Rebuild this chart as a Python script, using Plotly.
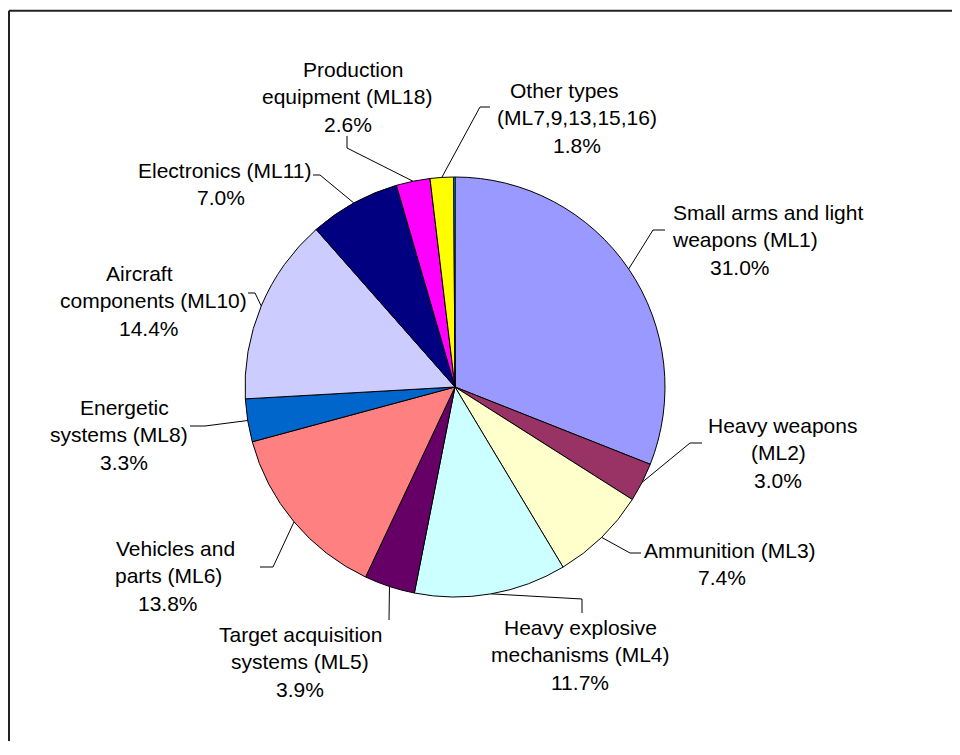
import plotly.graph_objects as go
import numpy as np

# ---------------- data ----------------
categories = [
    "Small arms and light weapons (ML1)", "Heavy weapons (ML2)", "Ammunition (ML3)",
    "Heavy explosive mechanisms (ML4)", "Target acquisition systems (ML5)",
    "Vehicles and parts (ML6)", "Energetic systems (ML8)", "Aircraft components (ML10)",
    "Electronics (ML11)", "Production equipment (ML18)", "Other types (ML7,9,13,15,16)",
    "Unlabelled remainder",
]
shares = [31.0, 3.0, 7.4, 11.7, 3.9, 13.8, 3.3, 14.4, 7.0, 2.6, 1.8, 0.1]
label_lines = [
    ["Small arms and light", "weapons (ML1)"],
    ["Heavy weapons", "(ML2)"],
    ["Ammunition (ML3)"],
    ["Heavy explosive", "mechanisms (ML4)"],
    ["Target acquisition", "systems (ML5)"],
    ["Vehicles and", "parts (ML6)"],
    ["Energetic", "systems (ML8)"],
    ["Aircraft", "components (ML10)"],
    ["Electronics (ML11)"],
    ["Production", "equipment (ML18)"],
    ["Other types", "(ML7,9,13,15,16)"],
    None,
]
colors = ["#9999FF", "#993366", "#FFFFCC", "#CCFFFF", "#660066", "#FF8080",
          "#0066CC", "#CCCCFF", "#000080", "#FF00FF", "#FFFF00", "#00FFFF"]

# ---------------- layout (screen pixels) ----------------
OFF = 8                      # page body margin
W, H = 960 - 2 * OFF, 755 - 2 * OFF - 6
CX, CY, R = 455, 387, 210
FONT = dict(family="Liberation Sans, Arial, sans-serif", size=21, color="#000000")
LINE_STEP = 27.5
label_layout = [
    dict(xs=[768, 745, 740], y=212, knee=(653, 230), attach=(665, 230)),
    dict(xs=[782, 778, 778], y=425, knee=(690, 443), attach=(702, 443)),
    dict(xs=[730, 722], y=550, knee=(630, 553), attach=(641, 553)),
    dict(xs=[580], y=627, knee=(582, 599), attach=(582, 613)),
    dict(xs=[300], y=634, knee=(389, 620), attach=(389, 620)),
    dict(xs=[175, 168, 168], y=548, knee=(273, 567), attach=(260, 567)),
    dict(xs=[124, 119, 124], y=407, knee=(205, 426), attach=(190, 426)),
    dict(xs=[139.5, 153.5, 149], y=273, knee=(255, 293), attach=(248, 293)),
    dict(xs=[225, 221], y=170, knee=(320, 175), attach=(313, 175)),
    dict(xs=[353, 347, 348], y=69, knee=(347, 148), attach=(347, 136)),
    dict(xs=[564, 577, 577], y=90, knee=(480, 107), attach=(490, 107)),
    None,
]

fig = go.Figure()

fig.add_trace(go.Pie(
    labels=categories, values=shares, sort=False, direction="clockwise", rotation=0,
    marker=dict(colors=colors, line=dict(color="#000000", width=1)),
    textinfo="none", hoverinfo="label+percent", showlegend=False,
    domain=dict(x=[(CX - R - OFF) / W, (CX + R - OFF) / W],
                y=[(H + OFF - CY - R) / H, (H + OFF - CY + R) / H]),
))

# mid angles of slices (clockwise from 12 o'clock)
vals = np.array(shares)
total = vals.sum()
cum = np.cumsum(vals) - vals / 2
mid_ang = cum / total * 2 * np.pi

annotations = []
for i, lines in enumerate(label_lines):
    if lines is None:
        continue
    lay = label_layout[i]
    px = CX + R * np.sin(mid_ang[i])
    py = CY - R * np.cos(mid_ang[i])
    kx, ky = lay["knee"]
    ax, ay = lay["attach"]
    fig.add_trace(go.Scatter(
        x=[px, kx, ax], y=[py, ky, ay], mode="lines",
        line=dict(color="#000000", width=1), hoverinfo="skip", showlegend=False,
    ))
    all_lines = lines + [f"{shares[i]:.1f}%"]
    xs = lay["xs"]
    for j, t in enumerate(all_lines):
        xj = xs[j] if j < len(xs) else xs[0]
        annotations.append(dict(
            x=xj, y=lay["y"] + j * LINE_STEP, xref="x", yref="y", text=t,
            showarrow=False, xanchor="center", yanchor="middle", font=FONT,
        ))

frame_line = dict(color="#222222", width=2)
fx = (9 - OFF) / W
fy = 1 - (10.8 - OFF) / H
fig.update_layout(
    width=W, height=H, margin=dict(l=0, r=0, t=0, b=0),
    paper_bgcolor="#FFFFFF", plot_bgcolor="rgba(0,0,0,0)",
    xaxis=dict(range=[OFF, OFF + W], visible=False, showline=False, zeroline=False,
               showgrid=False, fixedrange=True, domain=[0, 1]),
    yaxis=dict(range=[OFF + H, OFF], visible=False, showline=False, zeroline=False,
               showgrid=False, fixedrange=True, domain=[0, 1]),
    annotations=annotations,
    shapes=[
        dict(type="line", xref="paper", yref="paper", x0=fx, y0=fy, x1=1.05, y1=fy,
             line=frame_line, layer="above"),
        dict(type="line", xref="paper", yref="paper", x0=fx, y0=fy, x1=fx, y1=-0.05,
             line=frame_line, layer="above"),
    ],
    showlegend=False,
)

fig.write_html("out.html")
